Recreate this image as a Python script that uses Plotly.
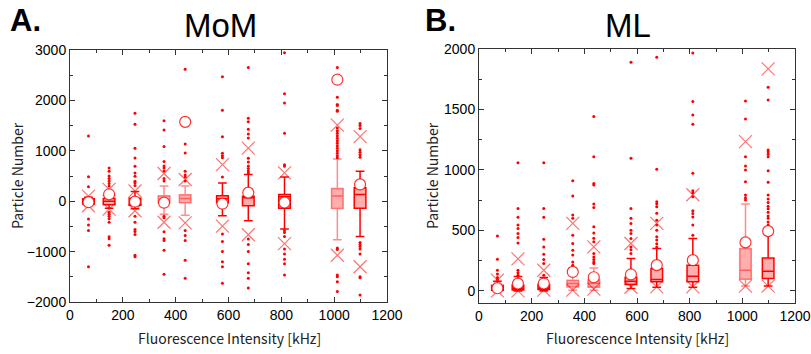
import plotly.graph_objects as go

# ---------------- data ----------------
intensity = [70, 148, 246, 356, 436, 577, 675, 812, 1012, 1098]
light_style = [False, False, False, True, True, False, False, False, True, False]

# Panel A: MoM
mom_q1 = [-55, -70, -80, -30, -30, -30, -90, -140, -145, -140]
mom_med = [0, 0, 0, 20, 55, 50, 70, 90, 105, 135]
mom_q3 = [50, 55, 60, 110, 130, 110, 100, 135, 250, 265]
mom_lo = [-80, -140, -150, -260, -280, -290, -390, -550, -765, -700]
mom_hi = [80, 170, 190, 300, 300, 360, 530, 480, 836, 594]
mom_mean = [-20, 137, -10, -30, 1574, -50, 170, -26, 2411, 333]
mom_xhi = [100, 235, 202, 549, 431, 725, 1052, 562, 1509, 1280]
mom_xlo = [-90, -157, -190, -418, -431, -496, -666, -843, -1072, -1300]
mom_out = [
    [1294, 484, 288, -353, -470, -582, -1300],
    [660, 594, 500, 450, 400, 350, 300, -220, -260, -300, -350, -420, -706, -745, -876],
    [1744, 1529, 1052, 856, 692, 562, 496, 398, 366, 313, -300, -420, -560, -600, -660, -1072, -1100],
    [1594, 1411, 1085, 790, 700, 660, 600, 450, 400, -300, -330, -608, -745, -778, -974, -1450],
    [2620, 1137, 954, 594, 520, 480, 400, -582, -680, -778, -1170, -1529],
    [2470, 1803, 1280, 950, 900, 860, 480, -650, -800, -1000, -1200, -1300, -1627],
    [2653, 1646, 1574, 1430, 1333, 1254, 850, 780, 700, 650, 600, 560, -750, -860, -1000, -1240, -1420, -1530, -1720],
    [2946, 2130, 1946, 1346, 725, 692, -580, -620, -700, -950, -1050, -1150, -1240, -1464],
    [2653, 2064, 1921, 1900, 1803, 1784, 1450, 1400, 1350, 1300, 1250, 1200, 1150, 1100, 1050, 1000, 950, 900, 860,
     -930, -960, -1464, -1500, -1600, -1790],
    [1542, 1500, 1444, 1019, 970, 921, 870, -820, -860, -900, -950, -1050, -1500, -1520, -1860],
]

# Panel B: ML
ml_q1 = [5, 8, 12, 33, 30, 52, 75, 75, 97, 103]
ml_med = [15, 20, 25, 61, 63, 80, 94, 122, 171, 163]
ml_q3 = [40, 45, 47, 89, 92, 112, 185, 213, 351, 273]
ml_lo = [0, 0, 0, 5, 5, 20, 30, 30, 40, 40]
ml_hi = [80, 120, 110, 190, 190, 268, 351, 434, 718, 480]
ml_mean = [22, 60, 61, 157, 113, 136, 213, 254, 401, 494]
ml_xhi = [89, 265, 171, 558, 364, 392, 558, 795, 1234, 1836]
ml_xlo = [0, 0, 6, 6, 15, 30, 33, 33, 40, 40]
ml_out = [
    [453, 262, 170, 140, 110, 95],
    [1060, 682, 608, 544, 516, 475, 442, 397, 170, 150, 130],
    [1060, 682, 608, 428, 364, 304, 260, 227, 130],
    [911, 784, 627, 600, 461, 392, 337, 296, 240, 213],
    [1441, 1110, 889, 875, 718, 690, 530, 478, 436, 406, 310, 280, 260, 240, 227],
    [1891, 1096, 682, 600, 558, 502, 475, 434, 364, 340, 310],
    [1932, 1005, 737, 718, 696, 641, 585, 544, 502, 447, 420, 390, 364],
    [1966, 1565, 1455, 1378, 972, 828, 810, 778, 662, 640, 612, 544, 461],
    [1571, 1422, 1110, 1032, 999, 902, 792, 770, 751],
    [1684, 1579, 1165, 1150, 1130, 1110, 994, 898, 792, 760, 730, 700, 680, 650, 620, 600, 570, 544],
]

# ---------------- figure ----------------
RED = "#ff0000"
RED_LIGHT = "rgba(255,0,0,0.45)"
XCOL = "rgba(255,0,0,0.55)"
FILL = "rgba(255,60,60,0.42)"
TICKFONT = dict(family="Liberation Sans, Arial, sans-serif", size=14, color="#000")
LABFONT = dict(family="Noto Sans CJK JP, sans-serif", size=14, color="#222")

fig = go.Figure()


def add_panel(xa, ya, q1, med, q3, lo, hi, mean, xhi, xlo, outs):
    for i, xc in enumerate(intensity):
        col = RED_LIGHT if light_style[i] else RED
        fig.add_trace(go.Box(
            x=[xc], q1=[q1[i]], median=[med[i]], q3=[q3[i]],
            lowerfence=[lo[i]], upperfence=[hi[i]],
            width=44, whiskerwidth=0.75, fillcolor=FILL,
            line=dict(color=col, width=1.5), boxpoints=False,
            xaxis=xa, yaxis=ya, showlegend=False, hoverinfo="skip"))
    ox, oy = [], []
    for xc, vals in zip(intensity, outs):
        for v in vals:
            ox.append(xc)
            oy.append(v)
    fig.add_trace(go.Scatter(x=ox, y=oy, mode="markers", xaxis=xa, yaxis=ya,
                             marker=dict(size=3, color=RED), showlegend=False))
    fig.add_trace(go.Scatter(x=intensity + intensity, y=xhi + xlo, mode="markers",
                             xaxis=xa, yaxis=ya, showlegend=False,
                             marker=dict(symbol="x-thin-open", size=13, color=XCOL,
                                         line=dict(color=XCOL, width=1.2))))
    fig.add_trace(go.Scatter(x=intensity, y=mean, mode="markers", xaxis=xa, yaxis=ya,
                             showlegend=False,
                             marker=dict(symbol="circle", size=11, color="white",
                                         line=dict(color="rgba(255,0,0,0.8)", width=1.2))))


add_panel("x", "y", mom_q1, mom_med, mom_q3, mom_lo, mom_hi, mom_mean, mom_xhi, mom_xlo, mom_out)
add_panel("x2", "y2", ml_q1, ml_med, ml_q3, ml_lo, ml_hi, ml_mean, ml_xhi, ml_xlo, ml_out)

W, H = 811, 354
axis_common = dict(showline=True, mirror="ticks", linecolor="#333", linewidth=1,
                   ticks="inside", ticklen=5, tickcolor="#333", showgrid=False,
                   zeroline=False, tickfont=TICKFONT, automargin=False)

fig.update_layout(
    width=W, height=H, margin=dict(l=0, r=0, t=0, b=0, autoexpand=False),
    paper_bgcolor="white", plot_bgcolor="white", boxmode="overlay",
    xaxis=dict(domain=[70 / W, 387 / W], range=[0, 1200], dtick=200,
               minor=dict(dtick=100, ticks="inside", ticklen=3, tickcolor="#333"),
               anchor="y", **axis_common),
    yaxis=dict(domain=[(H - 302) / H, (H - 50) / H], range=[-2000, 3000], dtick=1000,
               minor=dict(dtick=500, ticks="inside", ticklen=3, tickcolor="#333"),
               anchor="x", **axis_common),
    xaxis2=dict(domain=[479 / W, 795 / W], range=[0, 1200], dtick=200,
                minor=dict(dtick=100, ticks="inside", ticklen=3, tickcolor="#333"),
                anchor="y2", **axis_common),
    yaxis2=dict(domain=[(H - 303) / H, (H - 49) / H], range=[-100, 2000], dtick=500,
                minor=dict(dtick=250, ticks="inside", ticklen=3, tickcolor="#333"),
                anchor="x2", **axis_common),
)

ann = [
    dict(text="<b>A.</b>", x=8 / W, y=1 - 21 / H, xanchor="left", yanchor="middle",
         font=dict(family="Liberation Sans, Arial", size=31, color="#000")),
    dict(text="MoM", x=220 / W, y=1 - 26 / H, xanchor="center", yanchor="middle",
         font=dict(family="Liberation Sans, Arial", size=33, color="#000")),
    dict(text="<b>B.</b>", x=423 / W, y=1 - 21 / H, xanchor="left", yanchor="middle",
         font=dict(family="Liberation Sans, Arial", size=31, color="#000")),
    dict(text="ML", x=628 / W, y=1 - 26 / H, xanchor="center", yanchor="middle",
         font=dict(family="Liberation Sans, Arial", size=33, color="#000")),
    dict(text="Fluorescence Intensity [kHz]", x=229 / W, y=1 - 338 / H, xanchor="center",
         yanchor="middle", font=LABFONT),
    dict(text="Fluorescence Intensity [kHz]", x=637 / W, y=1 - 338 / H, xanchor="center",
         yanchor="middle", font=LABFONT),
    dict(text="Particle Number", x=17 / W, y=1 - 176 / H, xanchor="center", yanchor="middle",
         textangle=-90, font=LABFONT),
    dict(text="Particle Number", x=432 / W, y=1 - 176 / H, xanchor="center", yanchor="middle",
         textangle=-90, font=LABFONT),
]
for a in ann:
    a.update(xref="paper", yref="paper", showarrow=False)
fig.update_layout(annotations=ann)

fig.write_html("out.html")
